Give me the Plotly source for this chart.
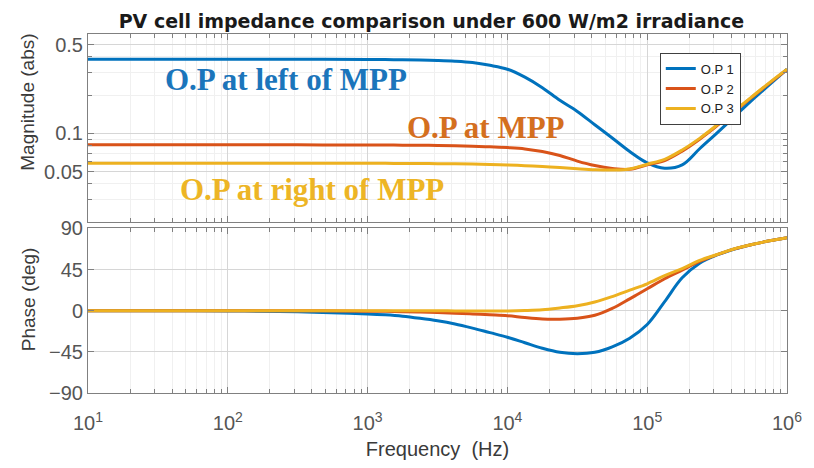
import numpy as np
import plotly.graph_objects as go

# Frequency points (Hz) at which the impedance curves are sampled
freq_hz = [10, 31.62, 100, 316.2, 1000, 1334, 1778, 2371, 3162, 4217, 5623, 7499,
           10000, 13335, 17783, 23714, 31623, 42170, 56234, 74989, 100000, 133352,
           177828, 237137, 316228, 421697, 562341, 749894, 1000000]

# |Z| (ohm) for the three operating points
mag_op1 = [0.384, 0.384, 0.384, 0.3835, 0.382, 0.381, 0.380, 0.378, 0.375, 0.370,
           0.361, 0.3435, 0.320, 0.277, 0.229, 0.182, 0.149, 0.117, 0.092, 0.072,
           0.0586, 0.0532, 0.0565, 0.0757, 0.101, 0.136, 0.183, 0.242, 0.320]
mag_op2 = [0.0815, 0.0815, 0.0815, 0.0813, 0.081, 0.081, 0.0808, 0.0806, 0.0804,
           0.080, 0.0792, 0.0785, 0.0773, 0.0755, 0.072, 0.067, 0.0605, 0.0558,
           0.0530, 0.0522, 0.0565, 0.0612, 0.0725, 0.090, 0.115, 0.149, 0.193,
           0.249, 0.318]
mag_op3 = [0.0583, 0.0583, 0.0583, 0.0582, 0.0581, 0.0581, 0.058, 0.0579, 0.0578,
           0.0576, 0.0573, 0.057, 0.0565, 0.0557, 0.0548, 0.0538, 0.0527, 0.0518,
           0.0515, 0.0525, 0.0572, 0.0625, 0.074, 0.0914, 0.1166, 0.151, 0.195,
           0.251, 0.320]

# Phase (deg) for the three operating points
ph_op1 = [0, 0, -0.3, -1, -3.5, -4.5, -6, -8.3, -11, -14.5, -19, -24, -29, -35, -41,
          -45.5, -47, -45.5, -39.5, -30, -15, 10, 36, 52, 61, 67.5, 72.5, 76.5, 80]
ph_op2 = [0, 0, 0, 0, -0.5, -0.7, -1, -1.5, -2, -2.7, -3.5, -4.5, -5.5, -7.5, -9,
          -9.2, -8.2, -5, 2.5, 13, 24, 35, 44.5, 54, 61.3, 67.7, 72.5, 76.5, 80]
ph_op3 = [0, 0, 0, 0, 0, 0, 0, 0, 0, -0.2, -0.3, -0.3, -0.2, 0.2, 1, 3, 5.5, 9.5,
          15.5, 22.5, 29.5, 38.4, 46, 55, 61.5, 67.8, 72.5, 76.5, 80]

names = ["O.P 1", "O.P 2", "O.P 3"]
colors = ["#0072BD", "#D95319", "#EDB120"]

x_tickvals = [10, 100, 1000, 10000, 100000, 1000000]
x_ticktext = ["10<sup>1</sup>", "10<sup>2</sup>", "10<sup>3</sup>",
              "10<sup>4</sup>", "10<sup>5</sup>", "10<sup>6</sup>"]
mag_tickvals = [0.05, 0.1, 0.5]
mag_ticktext = ["0.05", "0.1", "0.5"]
ph_tickvals = [-90, -45, 0, 45, 90]

x_minor = [m * 10 ** k for k in range(1, 6) for m in range(2, 10)]
mag_minor = [0.02, 0.03, 0.04, 0.06, 0.07, 0.08, 0.09, 0.2, 0.3, 0.4, 0.6]

fig = go.Figure()
for name, col, mag, ph in zip(names, colors, [mag_op1, mag_op2, mag_op3],
                              [ph_op1, ph_op2, ph_op3]):
    fig.add_trace(go.Scatter(x=freq_hz, y=mag, name=name, mode="lines",
                             line=dict(color=col, width=3, shape="spline", smoothing=1.0),
                             xaxis="x", yaxis="y"))
    fig.add_trace(go.Scatter(x=freq_hz, y=ph, name=name, mode="lines", showlegend=False,
                             line=dict(color=col, width=3, shape="spline", smoothing=1.0),
                             xaxis="x2", yaxis="y2"))

sans = "Liberation Sans, Arial, sans-serif"
axis_font = dict(family=sans, size=20, color="#555555")
frame = dict(showline=True, linecolor="#808080", linewidth=1, mirror="ticks",
             ticks="inside", ticklen=6, tickcolor="#808080", zeroline=False)
major_grid = "#d6d6d6"
minor_grid = "#f0f0f0"

x_common = dict(type="log", range=[1, 6], tickvals=x_tickvals, ticktext=x_ticktext,
                showgrid=True, gridcolor=major_grid,
                minor=dict(tickvals=x_minor, ticks="inside", ticklen=4,
                           tickcolor="#808080", showgrid=True, gridcolor=minor_grid),
                tickfont=axis_font, **frame)

fig.update_layout(
    width=814, height=468,
    margin=dict(l=88, r=21, t=34, b=74),
    paper_bgcolor="white", plot_bgcolor="white",
    showlegend=True,
    title=dict(text="<b>PV cell impedance comparison under 600 W/m2 irradiance</b>",
               x=0.53, xanchor="center", y=1 - 21 / 468, yanchor="middle",
               font=dict(family="DejaVu Sans, sans-serif", size=19, color="#1a1a1a")),
    xaxis=dict(anchor="y", domain=[0, 1], showticklabels=False, **x_common),
    xaxis2=dict(anchor="y2", domain=[0, 1], matches="x", ticklabelstandoff=12,
                title=dict(text="Frequency\u00a0 (Hz)", standoff=8,
                           font=dict(family=sans, size=20, color="#3a3a3a")),
                **x_common),
    yaxis=dict(anchor="x", domain=[0.4758, 1], type="log",
               range=[np.log10(0.02), np.log10(0.606)],
               tickvals=mag_tickvals, ticktext=mag_ticktext,
               showgrid=True, gridcolor=major_grid,
               minor=dict(tickvals=mag_minor, ticks="inside", ticklen=4,
                          tickcolor="#808080", showgrid=True, gridcolor=minor_grid),
               tickfont=axis_font, **frame),
    yaxis2=dict(anchor="x2", domain=[0, 0.4583], range=[-90, 90],
                tickvals=ph_tickvals, showgrid=True, gridcolor=major_grid,
                tickfont=axis_font, **frame),
    legend=dict(x=0.818, y=0.948, xanchor="left", yanchor="top",
                bgcolor="white", bordercolor="#404040", borderwidth=1,
                font=dict(family=sans, size=13, color="#222222"),
                itemwidth=30, tracegroupgap=0),
)

# Rotated y-axis titles
for text, ypos in [("Magnitude (abs)", 0.811), ("Phase (deg)", 0.261)]:
    fig.add_annotation(text=text, xref="paper", yref="paper", x=-0.086, y=ypos,
                       xanchor="center", yanchor="middle", textangle=-90,
                       showarrow=False, font=dict(family=sans, size=19, color="#3a3a3a"))

# Operating-point labels placed on the magnitude plot (log-axis coordinates)
serif = "Liberation Serif, Times New Roman, serif"
labels = [("O.P at left of MPP", 10 ** 2.415, 0.2645, "#1B75BB"),
          ("O.P at MPP", 10 ** 3.85, 0.1114, "#D46F1F"),
          ("O.P at right of MPP", 10 ** 2.601, 0.0362, "#EDB525")]
for text, fx, fy, col in labels:
    fig.add_annotation(text="<b>%s</b>" % text, x=np.log10(fx), y=np.log10(fy),
                       xref="x", yref="y", showarrow=False,
                       font=dict(family=serif, size=31, color=col))

fig.write_html("out.html")
